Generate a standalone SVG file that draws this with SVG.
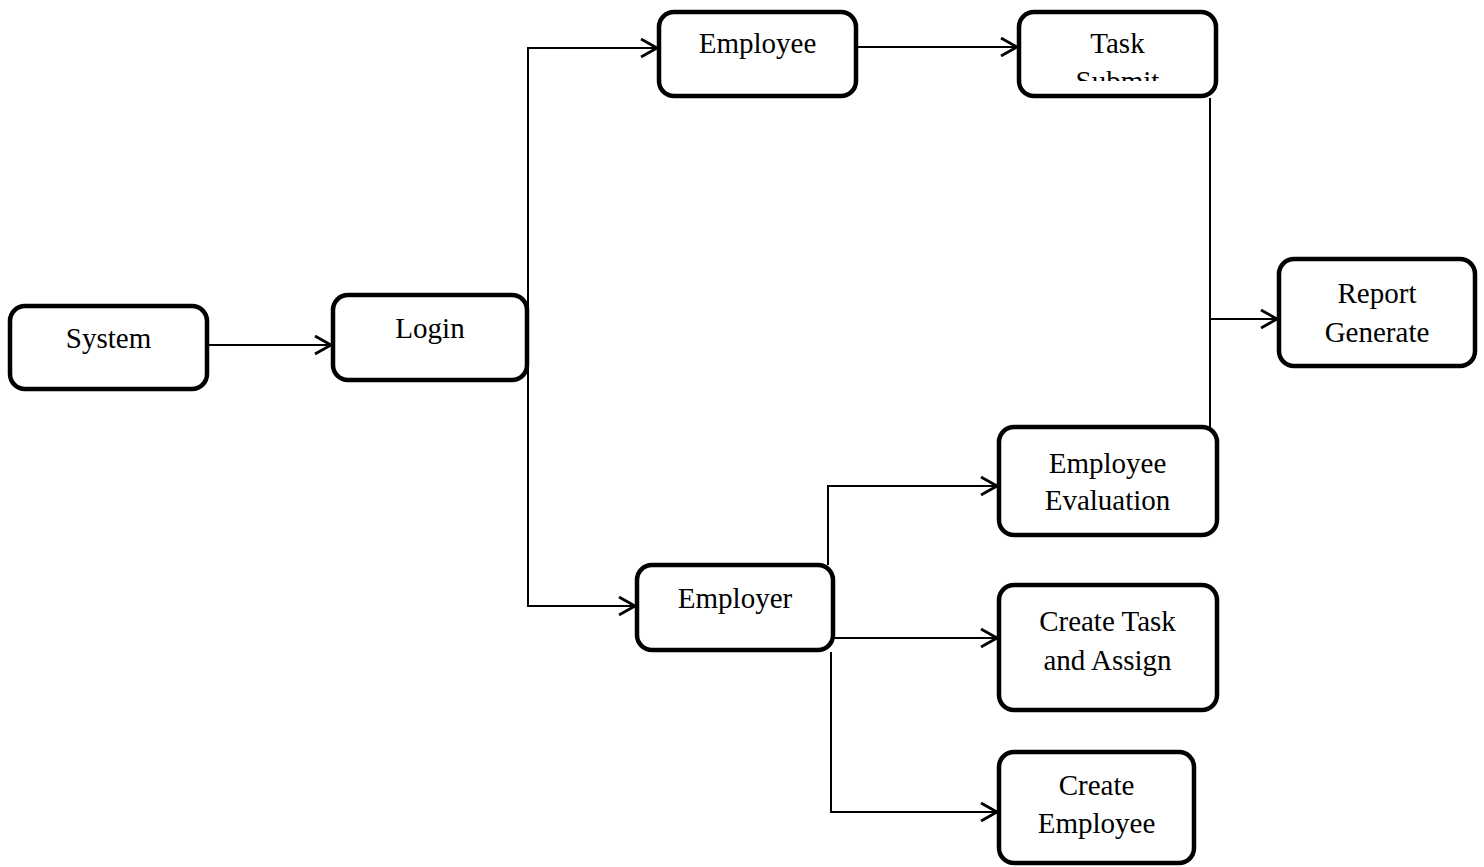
<svg xmlns="http://www.w3.org/2000/svg" width="1484" height="867" viewBox="0 0 1484 867">
  <style>
    .box { fill: #ffffff; stroke: #000000; stroke-width: 4.5; }
    .lbl { font-family: "Liberation Serif", "Times New Roman", serif; font-size: 29px; fill: #000000; text-anchor: middle; }
    .wire { fill: none; stroke: #000000; stroke-width: 2; }
    .arrow { marker-end: url(#chevron); }
  </style>
  <defs>
    <marker id="chevron" viewBox="0 0 20 20" markerWidth="20" markerHeight="20" refX="18" refY="10" markerUnits="userSpaceOnUse" orient="auto">
      <path d="M2,1 L18,10 L2,19" fill="none" stroke="#000000" stroke-width="2.8"/>
    </marker>
    <clipPath id="taskClip">
      <rect x="1017" y="0" width="201" height="81"/>
    </clipPath>
  </defs>

  <!-- connectors -->
  <g id="connectors">
    <path class="wire arrow" d="M209,345 H331"/>
    <path class="wire arrow" d="M528,345 V48 H657"/>
    <path class="wire arrow" d="M528,345 V606 H635"/>
    <path class="wire arrow" d="M858,47 H1017"/>
    <path class="wire arrow" d="M1210,98 V319 H1277"/>
    <path class="wire" d="M1210,428 V319"/>
    <path class="wire arrow" d="M828,565 V486 H997"/>
    <path class="wire arrow" d="M835,638 H997"/>
    <path class="wire arrow" d="M831,652 V812 H997"/>
  </g>

  <g id="system">
    <rect class="box" x="10" y="306" width="197" height="83" rx="15"/>
    <text class="lbl" x="108.5" y="348">System</text>
  </g>

  <g id="login">
    <rect class="box" x="333" y="295" width="194" height="85" rx="15"/>
    <text class="lbl" x="430" y="338">Login</text>
  </g>

  <g id="employee">
    <rect class="box" x="659" y="12" width="197" height="84" rx="15"/>
    <text class="lbl" x="757.5" y="53">Employee</text>
  </g>

  <g id="task-submit">
    <rect class="box" x="1019" y="12" width="197" height="84" rx="15"/>
    <g clip-path="url(#taskClip)">
      <text class="lbl" x="1117.5" y="53">Task</text>
      <text class="lbl" x="1117.5" y="91">Submit</text>
    </g>
  </g>

  <g id="report-generate">
    <rect class="box" x="1279" y="259" width="196" height="107" rx="15"/>
    <text class="lbl" x="1377" y="303">Report</text>
    <text class="lbl" x="1377" y="342">Generate</text>
  </g>

  <g id="employer">
    <rect class="box" x="637" y="565" width="196" height="85" rx="15"/>
    <text class="lbl" x="735" y="608">Employer</text>
  </g>

  <g id="employee-evaluation">
    <rect class="box" x="999" y="427" width="218" height="108" rx="15"/>
    <text class="lbl" x="1107.5" y="473">Employee</text>
    <text class="lbl" x="1107.5" y="510">Evaluation</text>
  </g>

  <g id="create-task">
    <rect class="box" x="999" y="585" width="218" height="125" rx="15"/>
    <text class="lbl" x="1107.5" y="631">Create Task</text>
    <text class="lbl" x="1107.5" y="670">and Assign</text>
  </g>

  <g id="create-employee">
    <rect class="box" x="999" y="752" width="195" height="111" rx="15"/>
    <text class="lbl" x="1096.5" y="795">Create</text>
    <text class="lbl" x="1096.5" y="833">Employee</text>
  </g>
</svg>
